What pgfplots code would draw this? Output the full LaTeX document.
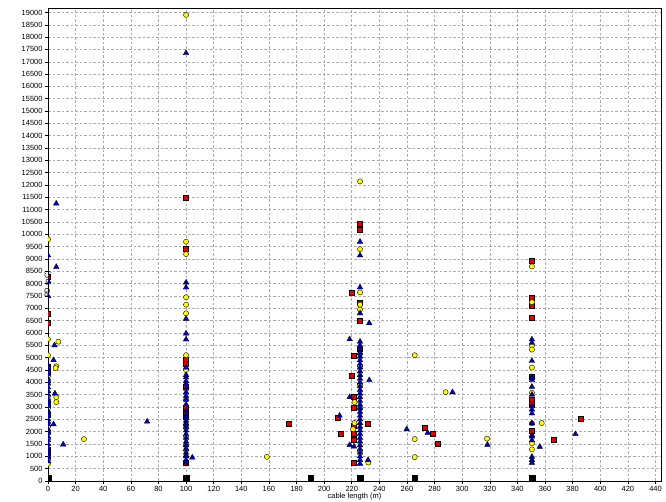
\documentclass[border=0pt]{standalone}
\usepackage{fontspec}
\setmainfont{Liberation Sans}
\usepackage{pgfplots}
\pgfplotsset{compat=1.18}
\definecolor{myyellow}{RGB}{255,255,0}
\definecolor{myred}{RGB}{228,0,0}
\definecolor{myblue}{RGB}{0,0,210}
\definecolor{gridgray}{RGB}{170,170,170}
\begin{document}
\begin{tikzpicture}
\begin{axis}[
  width=613bp, height=473bp, scale only axis,
  xmin=0, xmax=444, ymin=0, ymax=19180,
  xtick={0,20,...,440}, ytick={0,500,...,19000},
  scaled ticks=false,
  xtick pos=bottom, ytick pos=left, tick align=outside,
  major tick length=3bp,
  tick style={black, line width=0.5bp},
  axis line style={black, line width=0.6bp},
  grid=major,
  major grid style={gridgray, dash pattern=on 2.5bp off 2bp, line width=0.5bp},
  /pgf/number format/1000 sep={},
  /pgf/number format/assume math mode=true,
  tick label style={font=\fontsize{7.5}{8}\selectfont},
  xticklabel style={yshift=1bp},
  yticklabel style={xshift=1bp},
  xlabel={cable length (m)},
  ylabel={PD (pC)},
  xlabel style={font=\fontsize{7.5}{8}\selectfont, at={(axis description cs:0.5,0)}, anchor=center, yshift=-16bp},
  ylabel style={font=\fontsize{7.5}{8}\selectfont, at={(axis description cs:0,0.5)}, anchor=center, xshift=-40bp},
  clip marker paths=true,
  every axis plot/.append style={only marks, mark options={draw=black, line width=0.4bp}},
]
% red squares
\addplot[mark=square*, mark size=2.5bp, mark options={fill=myred}] coordinates {
(0,8300)(0,6800)(0,6400)(0,4650)(0,4450)(0,3150)(0,2700)(0,1250)(0,1050)
(100,11500)(100,9400)(100,4900)(100,4750)(100,3820)(100,2980)(100,2740)(100,2600)(100,740)
(174.5,2340)(209.5,2550)(211.7,1900)(231.8,2340)(272.8,2150)(278.6,1900)(282.2,1500)(366.3,1690)(385.7,2540)
(226,10450)(226,10200)(226,7250)(226,6500)(226,5350)(221.6,5100)(220,7650)(220,4250)(221.6,3400)(221.6,2980)(221.6,1900)(221.6,1690)(221.6,750)(221.6,2250)
(350.5,8950)(350.5,7440)(350.5,7100)(350.5,6610)(350.5,4220)(350.5,3280)(350.5,3150)(350.5,2040)
};
% yellow circles
\addplot[mark=*, mark size=2.6bp, mark options={fill=myyellow}] coordinates {
(0,9800)(0,5750)(0,5100)(0,4250)(0,4000)(0,3450)(0,3300)(0,2950)(0,2200)(0,2000)(0,1700)(0,850)(0,700)
(7.5,5650)(6,4650)(5.5,4580)(6,3400)(6,3200)(26,1700)
(100,18900)(100,9700)(100,9200)(100,7450)(100,7150)(100,6800)(100,5100)(100,4500)(100,3300)(100,2150)(100,1800)(100,1450)(100,1250)
(158.5,980)(265.6,5100)(265.6,1700)(265.6,970)(288,3600)(318,1720)(357.6,2350)
(226,12150)(226,9400)(226,7650)(226,7150)(226,6950)(226,5150)(226,4650)(226,3900)(226,2950)(226,1200)(222,3200)(222,2350)(221,2100)(232,750)
(350.5,8700)(350.5,7250)(350.5,5500)(350.5,5330)(350.5,4600)(350.5,3580)(350.5,2340)(350.5,1530)(350.5,1280)
};
% blue triangles
\addplot[mark=triangle*, mark size=3.2bp, mark options={fill=myblue}] coordinates {
(0,9150)(0,8100)(0,7500)(0,4700)(0,4550)(0,4350)(0,4150)(0,4050)(0,3950)(0,3800)(0,3650)(0,3500)(0,3300)(0,3150)(0,3050)(0,2850)(0,2750)(0,2650)(0,2500)(0,2400)(0,2300)(0,2100)(0,2000)(0,1950)(0,1800)(0,1650)(0,1500)(0,1350)(0,1200)(0,1100)(0,950)(0,800)
(6,11250)(6,8680)(4.7,5500)(4,4900)(5,3550)(4,2300)(11,1480)(71.8,2410)
(100,17350)(100,8050)(100,7850)(100,6580)(100,5980)(100,5740)(100,4600)(100,4300)(100,4200)(100,4050)(100,3950)(100,3750)(100,3600)(100,3450)(100,3300)(100,3100)(100,2850)(100,2650)(100,2550)(100,2450)(100,2350)(100,2300)(100,2200)(100,2050)(100,1900)(100,1750)(100,1600)(100,1450)(100,1300)(100,1150)(100,1050)(100,1000)(100,850)(100,750)(104.5,950)
(211.2,2650)(218.5,5750)(218.5,3400)(218.5,1460)(221.6,1400)(232.7,6400)(232.7,4090)(231.8,850)(259.8,2100)(275,1950)(293,3600)(318.3,1470)(356.2,1390)(382,1900)
(226,9700)(226,9150)(226,7850)(226,6800)
(226,5650)(226,5500)(226,5350)(226,5200)(226,5050)(226,4900)(226,4750)(226,4600)(226,4450)(226,4300)(226,4150)(226,4000)(226,3850)(226,3700)(226,3550)(226,3400)(226,3250)(226,3100)(226,2950)(226,2800)(226,2650)(226,2500)(226,2350)(226,2200)(226,2050)(226,1900)(226,1750)(226,1600)(226,1450)(226,1300)(226,1150)(226,1000)(226,850)(226,700)
(350.5,5740)(350.5,5600)(350.5,4870)(350.5,4220)(350.5,4090)(350.5,3820)(350.5,3500)(350.5,3040)(350.5,2900)(350.5,2740)(350.5,2340)(350.5,1860)(350.5,1800)(350.5,1650)(350.5,980)(350.5,850)(350.5,740)
};
% black squares
\addplot[mark=square*, mark size=2.8bp, mark options={fill=black}] coordinates {
(0,110)(100,110)(190.2,110)(226,110)(265.6,110)(350.5,110)
};
\end{axis}
\pgfresetboundingbox
\useasboundingbox ([xshift=-48bp,yshift=-21bp]current axis.south west) rectangle ([xshift=5bp,yshift=8bp]current axis.north east);
\end{tikzpicture}
\end{document}
